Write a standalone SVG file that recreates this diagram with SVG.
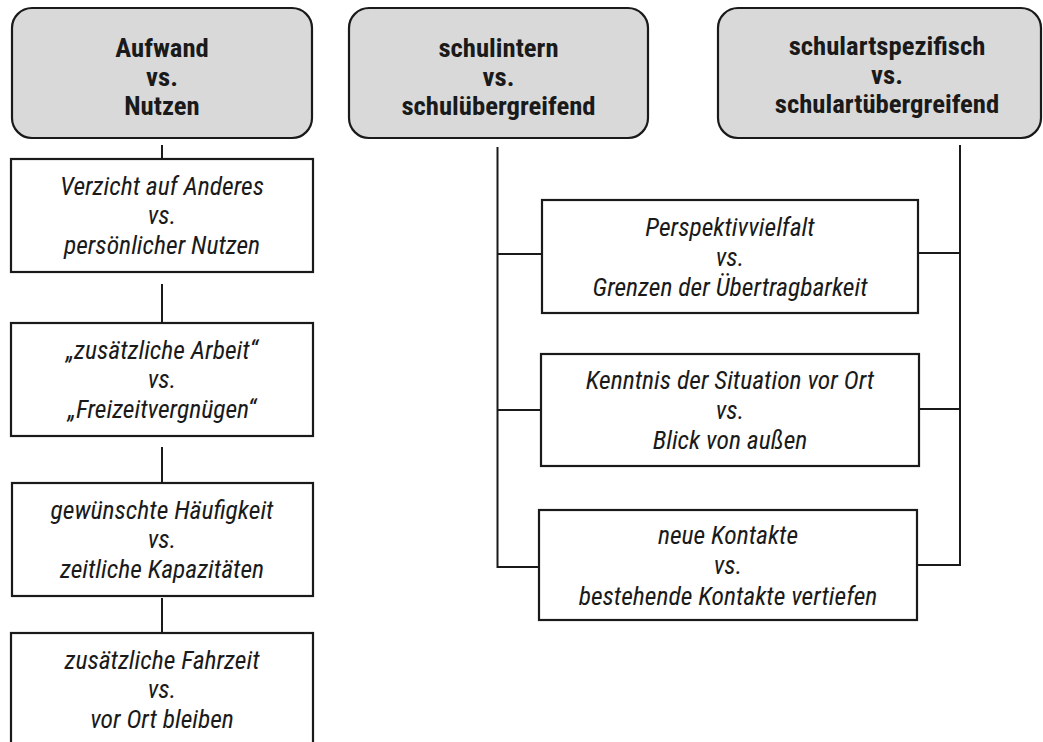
<svg xmlns="http://www.w3.org/2000/svg" width="1043" height="742" viewBox="0 0 1043 742">
<style>
.hdr{fill:#d9d9d9;stroke:#1a1a1a;stroke-width:2.2}
.box{fill:#fff;stroke:#1a1a1a;stroke-width:2.2}
.ln{stroke:#1a1a1a;stroke-width:2;fill:none}
text{font-family:"Roboto Condensed",Roboto,sans-serif;font-stretch:condensed;font-size:25.6px;fill:#1a1a1a;text-anchor:middle}
.b{font-weight:700;font-size:26.7px}
.i{font-style:italic}
</style>
<rect width="1043" height="742" fill="#fff"/>
<g id="connectors">
<line class="ln" x1="162" y1="145" x2="162" y2="159"/>
<line class="ln" x1="162" y1="284" x2="162" y2="323"/>
<line class="ln" x1="162" y1="447" x2="162" y2="483"/>
<line class="ln" x1="162" y1="598" x2="162" y2="633"/>
<polyline class="ln" points="497.5,147 497.5,567 539,567"/>
<line class="ln" x1="497.5" y1="254" x2="542" y2="254"/>
<line class="ln" x1="497.5" y1="410" x2="541" y2="410"/>
<polyline class="ln" points="960,145 960,565 917,565"/>
<line class="ln" x1="918" y1="253" x2="960" y2="253"/>
<line class="ln" x1="919" y1="409" x2="960" y2="409"/>
</g>
<g id="h1">
<rect class="hdr" x="12" y="8" width="300" height="130" rx="20"/>
<text class="b" x="162" y="57">Aufwand</text>
<text class="b" x="162" y="86">vs.</text>
<text class="b" x="162" y="115">Nutzen</text>
</g>
<g id="h2">
<rect class="hdr" x="349" y="8" width="299" height="130" rx="20"/>
<text class="b" x="498.5" y="57">schulintern</text>
<text class="b" x="498.5" y="86">vs.</text>
<text class="b" x="498.5" y="115">schulübergreifend</text>
</g>
<g id="h3">
<rect class="hdr" x="718" y="8" width="323" height="130" rx="20"/>
<text class="b" x="887" y="55">schulartspezifisch</text>
<text class="b" x="887" y="84">vs.</text>
<text class="b" x="887" y="113">schulartübergreifend</text>
</g>
<g id="l1">
<rect class="box" x="11" y="159" width="302" height="113"/>
<text class="i" x="162" y="195">Verzicht auf Anderes</text>
<text class="i" x="162" y="224">vs.</text>
<text class="i" x="162" y="254">persönlicher Nutzen</text>
</g>
<g id="l2">
<rect class="box" x="11" y="323" width="302" height="113"/>
<text class="i" x="162" y="359">„zusätzliche Arbeit“</text>
<text class="i" x="162" y="388">vs.</text>
<text class="i" x="162" y="418">„Freizeitvergnügen“</text>
</g>
<g id="l3">
<rect class="box" x="12" y="483" width="301" height="113"/>
<text class="i" x="162" y="519">gewünschte Häufigkeit</text>
<text class="i" x="162" y="548">vs.</text>
<text class="i" x="162" y="578">zeitliche Kapazitäten</text>
</g>
<g id="l4">
<rect class="box" x="11" y="633" width="302" height="130"/>
<text class="i" x="162" y="669">zusätzliche Fahrzeit</text>
<text class="i" x="162" y="698">vs.</text>
<text class="i" x="162" y="728">vor Ort bleiben</text>
</g>
<g id="m1">
<rect class="box" x="542" y="200" width="376" height="113"/>
<text class="i" x="730" y="236">Perspektivvielfalt</text>
<text class="i" x="730" y="266">vs.</text>
<text class="i" x="730" y="296">Grenzen der Übertragbarkeit</text>
</g>
<g id="m2">
<rect class="box" x="541" y="354" width="378" height="112"/>
<text class="i" x="730" y="389">Kenntnis der Situation vor Ort</text>
<text class="i" x="730" y="419">vs.</text>
<text class="i" x="730" y="449">Blick von außen</text>
</g>
<g id="m3">
<rect class="box" x="539" y="510" width="378" height="110"/>
<text class="i" x="728" y="544">neue Kontakte</text>
<text class="i" x="728" y="574">vs.</text>
<text class="i" x="728" y="605">bestehende Kontakte vertiefen</text>
</g>
</svg>
